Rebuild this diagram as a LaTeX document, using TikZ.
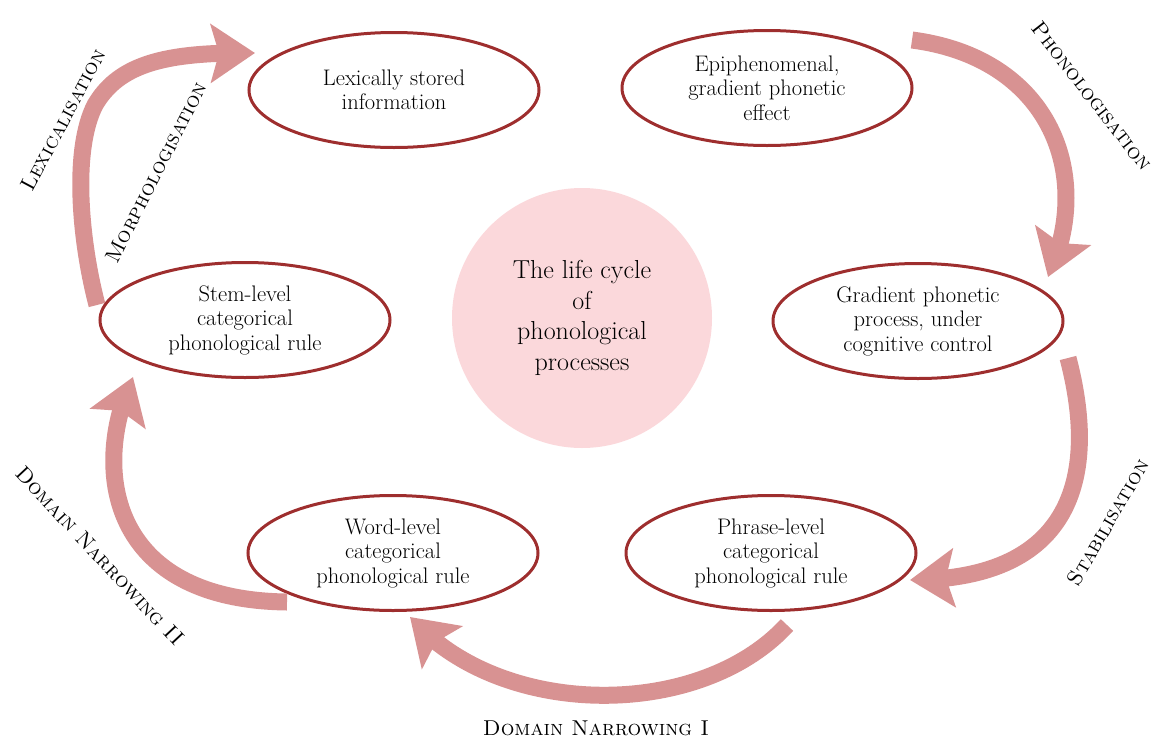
\documentclass[tikz,border=0pt]{standalone}
\usepackage{fontspec}
\usetikzlibrary{shapes.geometric,arrows.meta,bending}
\definecolor{ringred}{RGB}{158,46,46}
\definecolor{arrowpink}{RGB}{216,146,146}
\definecolor{circlepink}{RGB}{251,216,219}
\begin{document}
\begin{tikzpicture}[x=1pt,y=-1pt,
  stage/.style={ellipse,draw=ringred,line width=3pt,minimum width=290pt,minimum height=115pt,inner sep=0pt,align=center,font=\fontsize{22.5}{24.5}\selectfont},
  bigarrow/.style={draw=arrowpink,line width=17pt,-{Stealth[length=44pt,width=58pt,inset=8pt]}},
  lab/.style={font=\fontsize{21.5}{24}\selectfont\scshape,inner sep=0pt}]
\useasboundingbox (0,0) rectangle (1163,742);
\node[circle,fill=circlepink,minimum size=260pt,inner sep=0pt,align=center,font=\fontsize{26}{30.5}\selectfont] (core) at (582,318) {The life cycle\\of\\phonological\\processes};
\node[stage] (lex) at (394,90) {Lexically stored\\information};
\node[stage] (epi) at (767,88) {Epiphenomenal,\\gradient phonetic\\effect};
\node[stage] (stem) at (245,320) {Stem-level\\categorical\\phonological rule};
\node[stage] (grad) at (918,321) {Gradient phonetic\\process, under\\cognitive control};
\node[stage] (word) at (393,553) {Word-level\\categorical\\phonological rule};
\node[stage] (phr) at (771,553) {Phrase-level\\categorical\\phonological rule};
% arrow end points
\coordinate (a1s) at (97,305);  \coordinate (a1e) at (255,53);
\coordinate (a2s) at (912,40);  \coordinate (a2e) at (1048,277);
\coordinate (a3s) at (1068,358); \coordinate (a3e) at (910,580);
\coordinate (a4s) at (787,625); \coordinate (a4e) at (410,617);
\coordinate (a5s) at (287,602); \coordinate (a5e) at (133,377);
\draw[bigarrow] (a1s) .. controls (80,240) and (72,150) .. (95,105) .. controls (120,62) and (170,52) .. (a1e);
\draw[bigarrow] (a2s) .. controls (1050,58) and (1095,175) .. (a2e);
\draw[bigarrow] (a3s) .. controls (1100,480) and (1070,580) .. (a3e);
\draw[bigarrow] (a4s) .. controls (700,720) and (500,720) .. (a4e);
\draw[bigarrow] (a5s) .. controls (110,600) and (90,470) .. (a5e);
% labels
\node[lab,rotate=62] (l1) at (63,120) {Lexicalisation};
\node[lab,rotate=63] (l2) at (156,172) {Morphologisation};
\node[lab,rotate=-52] (l3) at (1092,96) {Phonologisation};
\node[lab,rotate=60] (l4) at (1108,522) {Stabilisation};
\node[lab] (l5) at (596,728) {Domain Narrowing I};
\node[lab,rotate=-47] (l6) at (100,556) {Domain Narrowing II};
\end{tikzpicture}
\end{document}
